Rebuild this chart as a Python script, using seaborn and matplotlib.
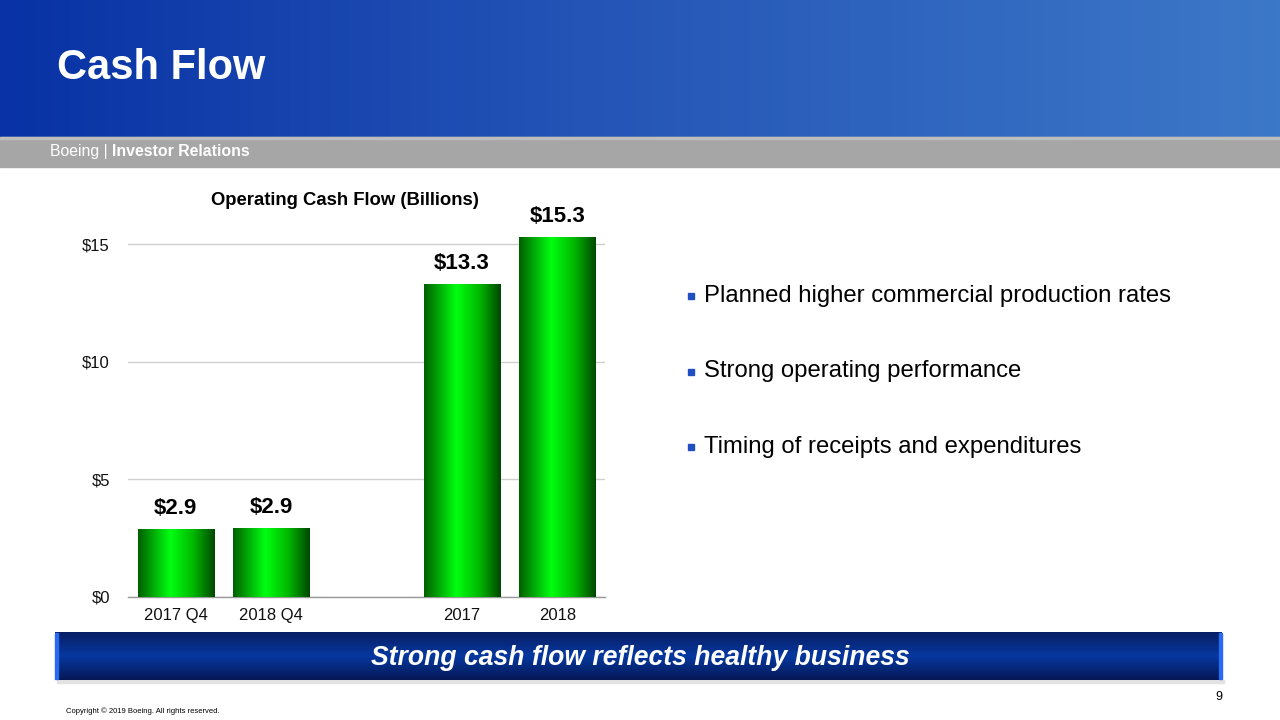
import numpy as np
import pandas as pd
import matplotlib
matplotlib.use("Agg")
import matplotlib.pyplot as plt
from matplotlib.colors import LinearSegmentedColormap
import seaborn as sns

# ---- data ----
categories = ["2017 Q4", "2018 Q4", " ", "2017", "2018"]
values = [2.88, 2.93, 0.0, 13.3, 15.3]
labels = ["$2.9", "$2.9", "", "$13.3", "$15.3"]
yticks = [0, 5, 10, 15]
ytick_labels = ["$0", "$5", "$10", "$15"]
bullets = ["Planned higher commercial production rates",
           "Strong operating performance",
           "Timing of receipts and expenditures"]

sns.set_theme(style="white")
plt.rcParams['font.family'] = ['Liberation Sans', 'DejaVu Sans']

fig = plt.figure(figsize=(12.8, 7.2), dpi=100)
fig.patch.set_facecolor("white")

# ---- background axes (pixel coords) ----
bg = fig.add_axes([0, 0, 1, 1], zorder=0)
bg.set_xlim(0, 1280)
bg.set_ylim(720, 0)
bg.axis("off")

# header gradient
hx = np.linspace(0, 1, 256)
c0 = np.array([8, 50, 165]) / 255
c1 = np.array([36, 84, 182]) / 255
c2 = np.array([60, 120, 200]) / 255
grad = np.zeros((1, 256, 3))
for i, t in enumerate(hx):
    if t < 0.45:
        grad[0, i] = c0 + (c1 - c0) * (t / 0.45)
    else:
        grad[0, i] = c1 + (c2 - c1) * ((t - 0.45) / 0.55)
bg.imshow(grad, extent=[0, 1280, 137, 0], aspect="auto", zorder=1)
bg.add_patch(plt.Rectangle((0, 137), 1280, 30, color="#A6A6A6", zorder=1))
bg.add_patch(plt.Rectangle((0, 137), 1280, 2, color="#BDBDBD", zorder=1))
bg.text(57, 68, "Cash Flow", color="white", fontsize=30, fontweight="bold",
        va="center", ha="left", zorder=2)
t1 = bg.text(50, 156, "Boeing | ", color="white", fontsize=11.4, va="baseline", ha="left", zorder=2)
fig.canvas.draw()
bb = t1.get_window_extent()
bg.text(50 + bb.width, 156, "Investor Relations", color="white", fontsize=11.4,
        fontweight="bold", va="baseline", ha="left", zorder=2)

# bottom banner
bg.add_patch(plt.Rectangle((57, 680), 1167, 3, color="#E2E2E2", zorder=1))
vy = np.linspace(0, 1, 64)
top = np.array([8, 30, 100]) / 255
mid = np.array([6, 56, 160]) / 255
bot = np.array([5, 24, 85]) / 255
vg = np.zeros((64, 1, 3))
for i, t in enumerate(vy):
    if t < 0.5:
        vg[i, 0] = top + (mid - top) * (t / 0.5)
    else:
        vg[i, 0] = mid + (bot - mid) * ((t - 0.5) / 0.5)
bg.imshow(vg, extent=[55, 1222, 680, 632], aspect="auto", zorder=2)
bg.add_patch(plt.Rectangle((55, 633), 3, 46, color="#2A6AF0", zorder=3))
bg.add_patch(plt.Rectangle((1219, 633), 3, 46, color="#2A6AF0", zorder=3))
bg.text(640, 658, "Strong cash flow reflects healthy business", color="white",
        fontsize=19.1, fontweight="bold", fontstyle="italic", ha="center", va="center", zorder=4)
bg.text(1222, 697, "9", fontsize=9, ha="right", va="center", color="black", zorder=4)
bg.text(66, 711, "Copyright \u00a9 2019 Boeing. All rights reserved.", fontsize=5.5,
        ha="left", va="center", color="black", zorder=4)

# bullets
for i, b in enumerate(bullets):
    y = 296 + i * 75.5
    bg.add_patch(plt.Rectangle((688, y - 3), 6, 6, color="#1F4FC0", zorder=3))
    bg.text(704, y, b, fontsize=17.2, ha="left", va="center", color="black", zorder=3)
bg.set_xlim(0, 1280)
bg.set_ylim(720, 0)

# ---- chart ----
ax = fig.add_axes([128 / 1280, 1 - 597 / 720, 477 / 1280, (597 - 220.5) / 720], zorder=2)
ax.patch.set_alpha(0)
df = pd.DataFrame({"cat": categories, "val": values})
sns.barplot(data=df, x="cat", y="val", ax=ax, color="#00C000", width=0.8,
            order=categories, errorbar=None, saturation=1)
ax.set_ylim(0, 16)
ax.set_xlim(-0.5, len(categories) - 0.5)

cmap = LinearSegmentedColormap.from_list(
    "g", [(0, "#006000"), (0.42, "#00FF10"), (0.72, "#00B800"), (1, "#004800")])
gx = np.linspace(0, 1, 200).reshape(1, -1)
for p in ax.patches:
    h = p.get_height()
    if h <= 0:
        continue
    x0, w = p.get_x(), p.get_width()
    im = ax.imshow(gx, cmap=cmap, extent=[x0, x0 + w, 0, h], aspect="auto", zorder=3)
    im.set_clip_path(p)
    p.set_edgecolor("none")
ax.set_ylim(0, 16)
ax.set_xlim(-0.5, len(categories) - 0.5)
ax.set_aspect("auto")

for i, (v, lab) in enumerate(zip(values, labels)):
    if lab:
        ax.text(i, v + 0.42, lab, ha="center", va="bottom", fontsize=16,
                fontweight="bold", color="black", zorder=5)

ax.set_yticks(yticks)
ax.set_yticklabels(ytick_labels, fontsize=12, color="#111111")
ax.yaxis.grid(True, color="#CFCFCF", linewidth=1)
ax.set_axisbelow(True)
ax.tick_params(axis="y", length=0, pad=13)
ax.set_xticks(range(len(categories)))
ax.set_xticklabels(categories, fontsize=12, color="#111111")
ax.tick_params(axis="x", length=0, pad=8)
# category boundary ticks
ax.set_xticks([i - 0.5 for i in range(len(categories) + 1)], minor=True)
ax.tick_params(axis="x", which="minor", length=5, color="#999999", width=1, direction="out")
ax.set_xlabel("")
ax.set_ylabel("")
for s in ["top", "right", "left"]:
    ax.spines[s].set_visible(False)
ax.spines["bottom"].set_color("#999999")
ax.spines["bottom"].set_linewidth(1)
ax.set_title("Operating Cash Flow (Billions)", fontsize=13.3, fontweight="bold",
             color="black", x=(345 - 128) / 477, pad=0, y=(597 - 198 - 7) / (597 - 220.5))

fig.savefig("out.png", dpi=100, facecolor="white")
